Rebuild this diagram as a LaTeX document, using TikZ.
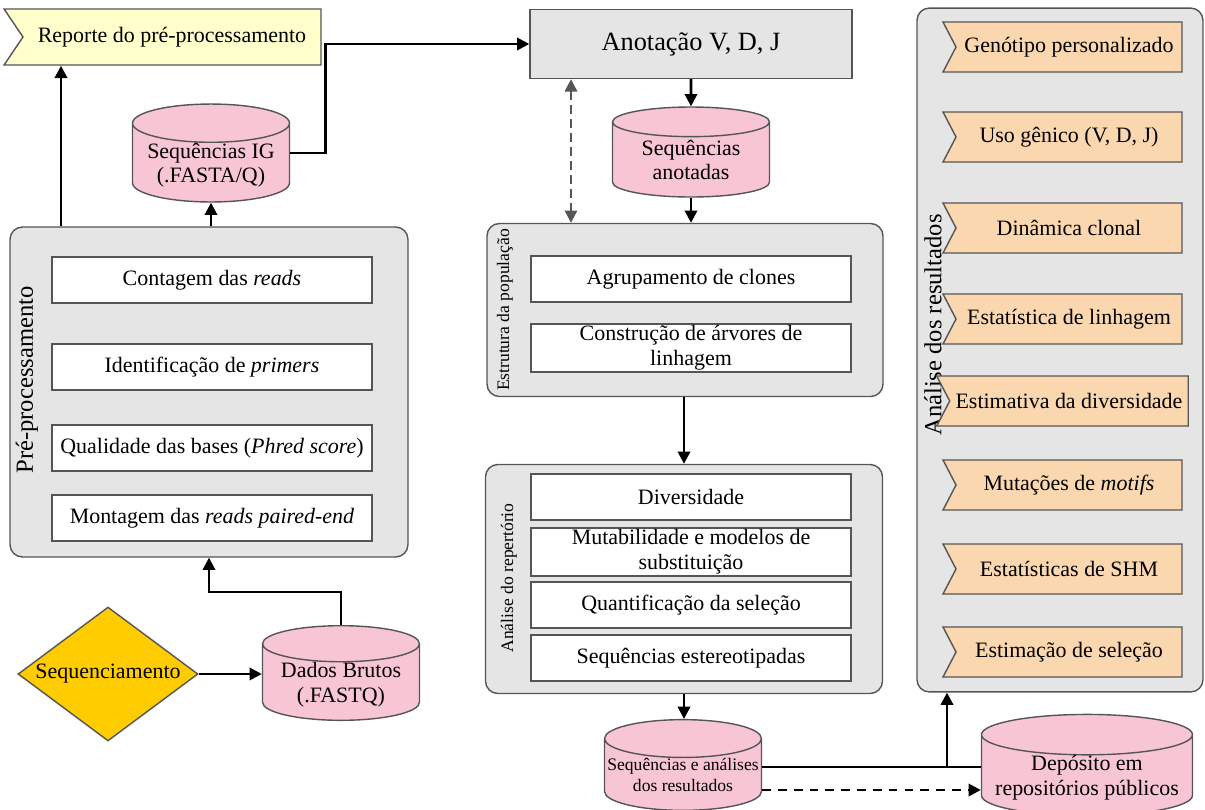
\documentclass[tikz,border=0pt]{standalone}
\usepackage{fontspec}
\setmainfont{Liberation Serif}
\usetikzlibrary{arrows.meta,calc,positioning,shapes.geometric,shapes.symbols}
\definecolor{Panel}{RGB}{229,229,229}
\definecolor{Edge}{RGB}{85,85,85}
\definecolor{Pink}{RGB}{248,197,213}
\definecolor{Cream}{RGB}{255,255,204}
\definecolor{Gold}{RGB}{255,204,0}
\definecolor{Peach}{RGB}{250,215,175}

\begin{document}
\begin{tikzpicture}[
    x=0.02cm, y=-0.02cm,
    line width=0.8pt,
    >={Triangle[length=7pt,width=7pt]},
    font=\fontsize{12.5}{14}\selectfont,
    panel/.style={draw=Edge, fill=Panel, rounded corners=7pt},
    task/.style={draw=Edge, fill=white, minimum width=6.4cm, minimum height=0.92cm,
                 align=center, inner sep=1pt},
    store/.style={cylinder, shape border rotate=90, aspect=0.3, draw=Edge, fill=Pink,
                  align=center, minimum width=3.14cm, minimum height=1.8cm, inner sep=0pt,
                  text depth=-9pt, anchor=shape center},
    flag/.style={signal, signal from=west, signal to=nowhere, signal pointer angle=125,
                 draw=Edge, fill=Peach, minimum width=4.78cm, minimum height=1cm},
    side/.style={rotate=90, anchor=center},
    flow/.style={->, line width=1.5pt}
]
  \useasboundingbox (0,0) rectangle (1205,809);

  % left column
  \node[signal, signal from=west, signal to=nowhere, signal pointer angle=112,
        draw=Edge, fill=Cream, minimum width=6.34cm, minimum height=1.12cm]
        (report) at (172,37) {Reporte do pré-processamento};
  \node[store] (ig) at (211,153) {Sequências IG\\(.FASTA/Q)};

  \node[panel, minimum width=7.96cm, minimum height=6.6cm] (pre) at (209,392) {};
  \node[side, font=\fontsize{14}{14}\selectfont] (prelbl) at (27,380) {Pré-processamento};
  \foreach \n/\y/\txt in {1/280/{Contagem das \textit{reads}},
                          2/367/{Identificação de \textit{primers}},
                          3/448/{Qualidade das bases (\textit{Phred score})},
                          4/518/{Montagem das \textit{reads paired-end}}} {
    \node[task] (pre\n) at (212,\y) {\txt};
  }

  \node[diamond, draw=Edge, fill=Gold, aspect=1.34, minimum width=3.6cm,
        minimum height=2.68cm, inner sep=0pt] (seqd) at (108,674) {Sequenciamento};
  \node[store] (raw) at (341,673) {Dados Brutos\\(.FASTQ)};

  % middle column
  \node[draw=Edge, fill=Panel, minimum width=6.44cm, minimum height=1.38cm,
        font=\fontsize{15}{15}\selectfont] (vdj) at (691,44) {Anotação V, D, J};
  \node[store] (anot) at (691,152) {Sequências\\anotadas};

  \node[panel, minimum width=7.92cm, minimum height=3.46cm] (pop) at (685,310) {};
  \node[side, font=\fontsize{10}{10}\selectfont] (poplbl) at (505,310) {Estrutura da população};
  \node[task] (pop1) at (691,279) {Agrupamento de clones};
  \node[task] (pop2) at (691,348) {Construção de árvores de\\linhagem};

  \node[panel, minimum width=7.94cm, minimum height=4.58cm] (rep) at (684,579) {};
  \node[side, font=\fontsize{10}{10}\selectfont] (replbl) at (509,578) {Análise do repertório};
  \foreach \n/\y/\txt in {1/497/{Diversidade},
                          2/552/{Mutabilidade e modelos de\\substituição},
                          3/605/{Quantificação da seleção},
                          4/658/{Sequências estereotipadas}} {
    \node[task] (rep\n) at (691,\y) {\txt};
  }

  \node[store, font=\fontsize{10}{12}\selectfont, aspect=0.25, text depth=-6pt,
        minimum height=1.72cm] (out) at (683,765) {Sequências e análises\\dos resultados};

  % right column
  \node[panel, minimum width=5.72cm, minimum height=13.68cm] (res) at (1060,350) {};
  \node[side, font=\fontsize{14}{14}\selectfont] (reslbl) at (933,325) {Análise dos resultados};
  \foreach \n/\y/\txt in {1/47/{Genótipo personalizado},
                          2/137/{Uso gênico (V, D, J)},
                          3/228/{Dinâmica clonal},
                          4/319/{Estatística de linhagem},
                          5/401/{Estimativa da diversidade},
                          6/485/{Mutações de \textit{motifs}},
                          7/569/{Estatísticas de SHM},
                          8/652/{Estimação de seleção}} {
    \node[flag] (res\n) at (1069,\y) {\txt};
  }

  \node[store, aspect=0.22, minimum width=4.22cm, minimum height=1.72cm] (depot) at (1087,765)
        {Depósito em\\repositórios públicos};

  % connectors
  \coordinate (up) at (61,0);
  \coordinate (dash) at (571,0);
  \coordinate (jn) at (947,767);
  \coordinate (dl) at (0,790);
  \draw[flow] (pre.north -| up) -- (report.south -| up);
  \draw[flow] (pre.north -| ig) -- (ig.south);
  \draw[flow] (ig.east |- ig.shape center) -- ++(35,0) |- (vdj.west);
  \draw[flow] (seqd.east) -- (seqd.east -| raw.west);
  \draw[flow] (raw.north) -- ++(0,-33) -| (pre.south);
  \draw[flow] (vdj.south -| anot) -- (anot.north);
  \draw[flow] (anot.south) -- (anot.south |- pop.north);
  \draw[<->, Edge, line width=1.3pt, dash pattern=on 5pt off 3pt]
        (vdj.south -| dash) -- (pop.north -| dash);
  \draw[flow] (pop.south -| rep) -- (rep.north);
  \draw[flow] (rep.south) -- (rep.south |- out.north);
  \draw[line width=1.5pt] (out.east |- jn) -- (depot.west |- jn);
  \draw[flow] (jn) -- (res.south -| jn);
  \draw[flow, dash pattern=on 5pt off 4pt] (out.east |- dl) -- (depot.west |- dl);
\end{tikzpicture}
\end{document}
